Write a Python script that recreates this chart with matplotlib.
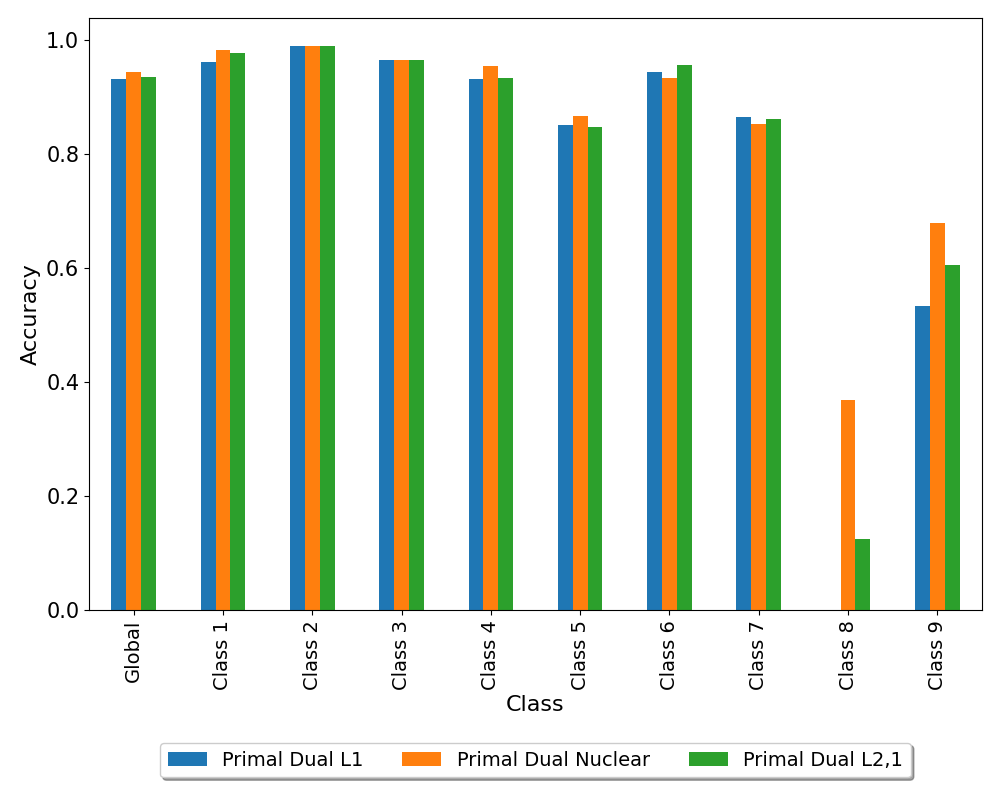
import matplotlib.pyplot as plt
import numpy as np

classes = ["Global", "Class 1", "Class 2", "Class 3", "Class 4",
           "Class 5", "Class 6", "Class 7", "Class 8", "Class 9"]
pd_l1 = [0.931, 0.961, 0.989, 0.965, 0.931, 0.851, 0.944, 0.865, 0.0, 0.534]
pd_nuclear = [0.944, 0.982, 0.989, 0.965, 0.954, 0.866, 0.933, 0.852, 0.369, 0.678]
pd_l21 = [0.935, 0.977, 0.989, 0.965, 0.933, 0.847, 0.956, 0.861, 0.125, 0.606]

series = [("Primal Dual L1", pd_l1, "#1f77b4"),
          ("Primal Dual Nuclear", pd_nuclear, "#ff7f0e"),
          ("Primal Dual L2,1", pd_l21, "#2ca02c")]

fig = plt.figure(figsize=(10, 8), dpi=100)
ax = fig.add_axes([0.089, 0.2375, 0.893, 0.74])

x = np.arange(len(classes))
w = 0.5 / 3
for i, (name, vals, col) in enumerate(series):
    ax.bar(x + (i - 1) * w, vals, w, color=col, label=name)

ax.set_xlim(-0.5, len(classes) - 0.5)
ax.set_xticks(x)
ax.set_xticklabels(classes, rotation=90, fontsize=14)
ax.tick_params(axis='y', labelsize=15)
ax.set_xlabel("Class", fontsize=16)
ax.set_ylabel("Accuracy", fontsize=16)
ax.legend(loc='upper center', bbox_to_anchor=(0.5, -0.208), ncol=3,
          fancybox=True, shadow=True, fontsize=14)

plt.savefig("out.png")
